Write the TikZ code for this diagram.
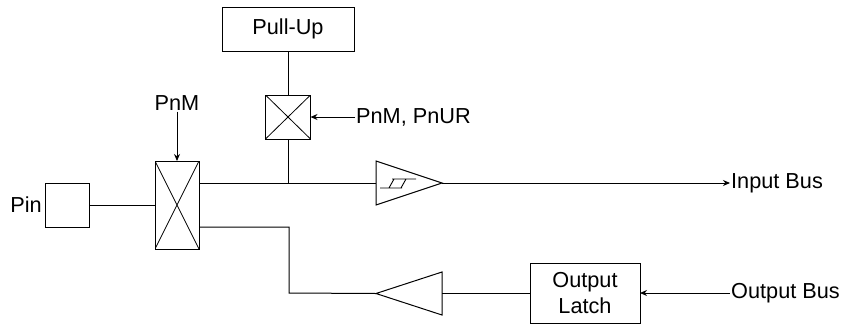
\documentclass[tikz,border=0pt]{standalone}
\usepackage{fontspec}
\setmainfont{Liberation Sans}
\usetikzlibrary{arrows.meta,calc}
\begin{document}
\begin{tikzpicture}[x=1pt,y=-1pt,
  every node/.style={font=\fontsize{21.7}{26}\selectfont},
  wire/.style={line width=1pt},
  arr/.style={line width=1pt,-{Stealth[length=7pt,width=6pt]}},
  blk/.style={draw,line width=1pt,inner sep=0pt,outer sep=0pt,align=center},
  xbox/.style={blk,path picture={\draw[line width=0.8pt] (path picture bounding box.north west)--(path picture bounding box.south east)
     (path picture bounding box.south west)--(path picture bounding box.north east);}},
  lbl/.style={inner sep=1pt}]
\useasboundingbox (0,0) rectangle (844,325);
% blocks
\node[blk,minimum width=44,minimum height=44] (pin) at (67,205) {};
\node[lbl,anchor=east] (pinl) at (43,205) {Pin};
\node[xbox,minimum width=44,minimum height=88] (mux) at (177,205) {};
\node[blk,minimum width=132,minimum height=44] (pu) at (288,29) {Pull-Up};
\node[xbox,minimum width=45,minimum height=44] (smux) at (288,117) {};
\node[blk,minimum width=110,minimum height=60] (latch) at (585,293) {Output\\Latch};
\node[lbl] (pnm) at (177,103) {PnM};
\node[lbl,anchor=west] (pnur) at (355,117) {PnM, PnUR};
\node[lbl,anchor=west] (inb) at (730,183) {Input Bus};
\node[lbl,anchor=west] (outb) at (730,293) {Output Bus};
% Schmitt buffer
\coordinate (sa) at (376,161); \coordinate (sb) at (376,205); \coordinate (sc) at (442,183);
\coordinate (sin) at (376,183);
\draw[wire] (sa) -- (sc) -- (sb) -- cycle;
\draw[line width=0.9pt] (380,188) -- (402,188) (392,179) -- (416,179)
  (389,188) -- (394,179) (401,188) -- (406,179);
% output buffer
\coordinate (oa) at (442,272); \coordinate (ob) at (442,315); \coordinate (oc) at (376,293.5);
\coordinate (oin) at (442,293);
\draw[wire] (oa) -- (oc) -- (ob) -- cycle;
% connectors
\coordinate (mu) at ($(mux.north east)!0.25!(mux.south east)$);
\coordinate (ml) at ($(mux.north east)!0.75!(mux.south east)$);
\coordinate (jn) at (smux.south |- mu);
\draw[wire] (pin.east) -- (mux.west);
\draw[arr] (pnm.south) -- (mux.north);
\draw[wire] (pu.south) -- (smux.north);
\draw[wire] (smux.south) -- (jn);
\draw[arr] (pnur.west) -- (smux.east);
\draw[wire] (mu) -- (sin);
\draw[arr] (sc) -- (inb.west);
\draw[wire] (ml) -- (289,227) -- (289,293) -- (oc);
\draw[wire] (oin) -- (latch.west);
\draw[arr] (outb.west) -- (latch.east);
\end{tikzpicture}
\end{document}
